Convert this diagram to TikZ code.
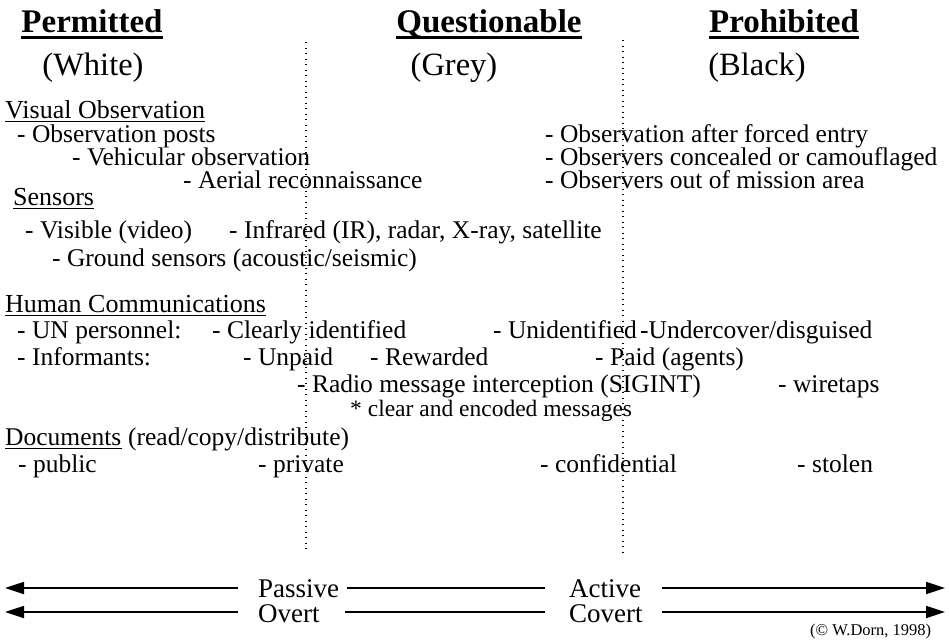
\documentclass[tikz,border=0pt]{standalone}
\usepackage{fontspec}
\setmainfont{Liberation Serif}
\newfontfamily\tms{Liberation Serif}
\usetikzlibrary{arrows.meta}
\tikzset{
  txt/.style={anchor=base west, inner sep=0pt, font=\tms\fontsize{25.5}{25.5}\selectfont},
  head/.style={anchor=base west, inner sep=0pt, font=\tms\fontsize{26}{26}\selectfont},
  small/.style={anchor=base west, inner sep=0pt, font=\tms\fontsize{23.5}{23.5}\selectfont},
  axis/.style={anchor=base west, inner sep=0pt, font=\tms\fontsize{27}{27}\selectfont},
  title/.style={anchor=base, inner sep=0pt, font=\tms\fontsize{33}{33}\selectfont\bfseries},
  sub/.style={anchor=base, inner sep=0pt, font=\tms\fontsize{32.5}{32.5}\selectfont},
  uline/.style={line width=1.1pt},
  tline/.style={line width=2.2pt},
  divider/.style={line width=1.3pt, dash pattern=on 1.3pt off 4.2pt},
  arr/.style={line width=1.8pt},
  arrtip/.style={-{Triangle[length=19pt,width=12pt]}}
}
\begin{document}
\begin{tikzpicture}[x=1pt,y=-1pt]
\useasboundingbox (0,0) rectangle (949,641);
% dividers
\coordinate (d1a) at (306,42); \coordinate (d1b) at (306,553);
\coordinate (d2a) at (623,40); \coordinate (d2b) at (623,556);
\draw[divider] (d1a) -- (d1b);
\draw[divider] (d2a) -- (d2b);
% titles
\node[title] (tP) at (92,32) {Permitted};
\node[title] (tQ) at (489,32) {Questionable};
\node[title] (tB) at (784,32) {Prohibited};
\foreach \n in {tP,tQ,tB}{
  \draw[tline] ([yshift=-5.5pt]\n.base west) -- ([yshift=-5.5pt]\n.base east);
}
\node[sub] (sW) at (93,75) {(White)};
\node[sub] (sG) at (454,75) {(Grey)};
\node[sub] (sB) at (757,75) {(Black)};
% Visual observation
\node[head] (vo) at (5,118) {Visual Observation};
\draw[uline] ([yshift=-3.5pt]vo.base west) -- ([yshift=-3.5pt]vo.base east);
\node[txt] (v1) at (17,142) {- Observation posts};
\node[txt] (v2) at (72,165) {- Vehicular observation};
\node[txt] (v3) at (183,188) {- Aerial reconnaissance};
\node[txt] (p1) at (545,142) {- Observation after forced entry};
\node[txt] (p2) at (545,165) {- Observers concealed or camouflaged};
\node[txt] (p3) at (545,188) {- Observers out of mission area};
% Sensors
\node[head] (se) at (13,205) {Sensors};
\draw[uline] ([yshift=-3.5pt]se.base west) -- ([yshift=-3.5pt]se.base east);
\node[txt] (s1) at (25,238) {- Visible (video)};
\node[txt] (s2) at (229,238) {- Infrared (IR), radar, X-ray, satellite};
\node[txt] (s3) at (52,266) {- Ground sensors (acoustic/seismic)};
% Human communications
\node[head] (hc) at (5,312) {Human Communications};
\draw[uline] ([yshift=-3.5pt]hc.base west) -- ([yshift=-3.5pt]hc.base east);
\node[txt] (h1) at (17,338) {- UN personnel:};
\node[txt] (h2) at (212,338) {- Clearly identified};
\node[txt] (h3) at (493,338) {- Unidentified};
\node[txt] (h4) at (640,338) {-Undercover/disguised};
\node[txt] (i1) at (17,365) {- Informants:};
\node[txt] (i2) at (243,365) {- Unpaid};
\node[txt] (i3) at (370,365) {- Rewarded};
\node[txt] (i4) at (595,365) {- Paid (agents)};
\node[txt] (r1) at (297,392) {- Radio message interception (SIGINT)};
\node[txt] (r2) at (778,392) {- wiretaps};
\node[small] (r3) at (350,416) {* clear and encoded messages};
% Documents
\node[txt] (dc) at (5,445) {Documents};
\draw[uline] ([yshift=-3.5pt]dc.base west) -- ([yshift=-3.5pt]dc.base east);
\node[txt] (dc2) at ([xshift=6.4pt]dc.base east) {(read/copy/distribute)};
\node[txt] (o1) at (18,472) {- public};
\node[txt] (o2) at (258,472) {- private};
\node[txt] (o3) at (540,472) {- confidential};
\node[txt] (o4) at (797,472) {- stolen};
% arrows
\node[axis] (pa) at (258,597) {Passive};
\node[axis] (ac) at (569,597) {Active};
\node[axis] (ov) at (258,622) {Overt};
\node[axis] (co) at (569,622) {Covert};
\coordinate (la1s) at (238,588); \coordinate (la1) at (5,588);
\coordinate (m1s) at (347,588);  \coordinate (m1e) at (545,588);
\coordinate (ra1s) at (662,588); \coordinate (ra1) at (945,588);
\coordinate (la2s) at (238,612); \coordinate (la2) at (5,612);
\coordinate (m2s) at (345,612);  \coordinate (m2e) at (545,612);
\coordinate (ra2s) at (662,612); \coordinate (ra2) at (945,612);
\draw[arr,arrtip] (la1s) -- (la1);
\draw[arr] (m1s) -- (m1e);
\draw[arr,arrtip] (ra1s) -- (ra1);
\draw[arr,arrtip] (la2s) -- (la2);
\draw[arr] (m2s) -- (m2e);
\draw[arr,arrtip] (ra2s) -- (ra2);
\node[anchor=base west, inner sep=0pt, font=\tms\fontsize{16.5}{16.5}\selectfont] (cr) at (810,635) {(© W.Dorn, 1998)};
\end{tikzpicture}
\end{document}
